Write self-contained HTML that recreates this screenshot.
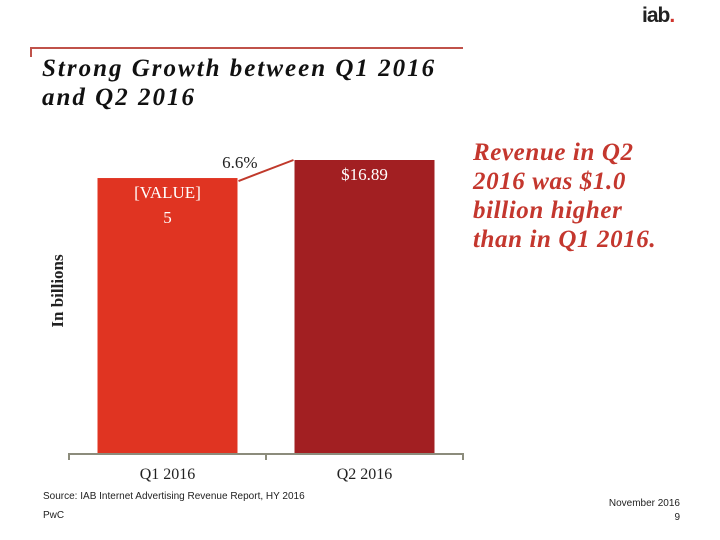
<!DOCTYPE html>
<html><head><meta charset="utf-8"><style>
body{margin:0;background:#fff;}
#c{position:relative;width:720px;height:540px;overflow:hidden;font-family:"Liberation Serif",serif;}
.t{position:absolute;white-space:nowrap;}
</style></head><body>
<div id="c">
<div class="t" style="left:642px;top:4px;font-family:'Liberation Sans',sans-serif;font-weight:bold;font-size:21px;color:#222;letter-spacing:-1px">iab<span style="color:#d0342c">.</span></div>
<div style="position:absolute;left:30px;top:47px;width:433px;height:2px;background:#c0524a"></div>
<div style="position:absolute;left:30px;top:47px;width:2px;height:10px;background:#c0524a"></div>
<div class="t" style="left:42px;top:54px;font-size:25px;line-height:29px;font-weight:bold;font-style:italic;color:#111;letter-spacing:2px">Strong Growth between Q1 2016<br>and Q2 2016</div>
<div class="t" style="left:473px;top:138px;font-size:25px;line-height:29px;font-weight:bold;font-style:italic;color:#c4372e;letter-spacing:0.6px">Revenue in Q2<br>2016 was $1.0<br>billion higher<br>than in Q1 2016.</div>
<svg id="chart" width="720" height="540" style="position:absolute;left:0;top:0"></svg>
<div class="t" style="left:43px;top:491px;font-family:'Liberation Sans',sans-serif;font-size:10px;color:#222">Source: IAB Internet Advertising Revenue Report, HY 2016</div>
<div class="t" style="left:43px;top:510px;font-family:'Liberation Sans',sans-serif;font-size:10px;color:#222">PwC</div>
<div class="t" style="right:40px;top:498px;font-family:'Liberation Sans',sans-serif;font-size:10px;color:#222;text-align:right">November 2016</div>
<div class="t" style="right:40px;top:512px;font-family:'Liberation Sans',sans-serif;font-size:10px;color:#222">9</div>
</div>
<script>
const categories=["Q1 2016","Q2 2016"];
const values=[15.85,16.89];
const valueLabels=["[VALUE]\n5","$16.89"];
const colors=["#e03422","#a21f22"];
const growthLabel="6.6%";
const NS="http://www.w3.org/2000/svg";
const svg=document.getElementById('chart');
const x0=69,x1=463,base=453,plotTop=160,maxV=16.89;
const band=(x1-x0)/categories.length;
const bw=140;
function xs(i){return x0+band*i+(band-bw)/2;}
function ys(v){return base-(v/maxV)*(base-plotTop);}
function mk(t,a){const e=document.createElementNS(NS,t);for(const k in a)e.setAttribute(k,a[k]);svg.appendChild(e);return e;}
categories.forEach((c,i)=>{
 const r=mk('rect',{x:xs(i),y:ys(values[i]),width:bw,height:base-ys(values[i]),fill:colors[i]});
 
 
 const lines=valueLabels[i].split('\n');
 lines.forEach((ln,j)=>{
  const t=mk('text',{x:xs(i)+bw/2,y:ys(values[i])+20+j*25,'text-anchor':'middle','font-family':'Liberation Serif, serif','font-size':17,fill:'#fff'});
  t.textContent=ln;
  
  
 });
 const cl=mk('text',{x:xs(i)+bw/2,y:base+26,'text-anchor':'middle','font-family':'Liberation Serif, serif','font-size':16,fill:'#222'});
 cl.textContent=c;
 
 
});
const ax=mk('line',{x1:x0,y1:base+1,x2:x1,y2:base+1,stroke:'#8c8c7c','stroke-width':2});


[0,1,2].forEach(k=>{
 const tk=mk('line',{x1:x0+band*k,y1:base,x2:x0+band*k,y2:base+7,stroke:'#8c8c7c','stroke-width':2});
 
 
});
const gl=mk('line',{x1:xs(0)+bw+1,y1:ys(values[0])+3,x2:xs(1)-1,y2:ys(values[1]),stroke:'#c0392b','stroke-width':2});


const gt=mk('text',{x:xs(0)+bw+20,y:ys(values[1])+8,'text-anchor':'end','font-family':'Liberation Serif, serif','font-size':17,fill:'#222'});
gt.textContent=growthLabel;


const yl=mk('text',{x:0,y:0,transform:'translate(63,291) rotate(-90)','text-anchor':'middle','font-family':'Liberation Serif, serif','font-size':17,'font-weight':'bold',fill:'#222'});
yl.textContent='In billions';


</script>
</body></html>
